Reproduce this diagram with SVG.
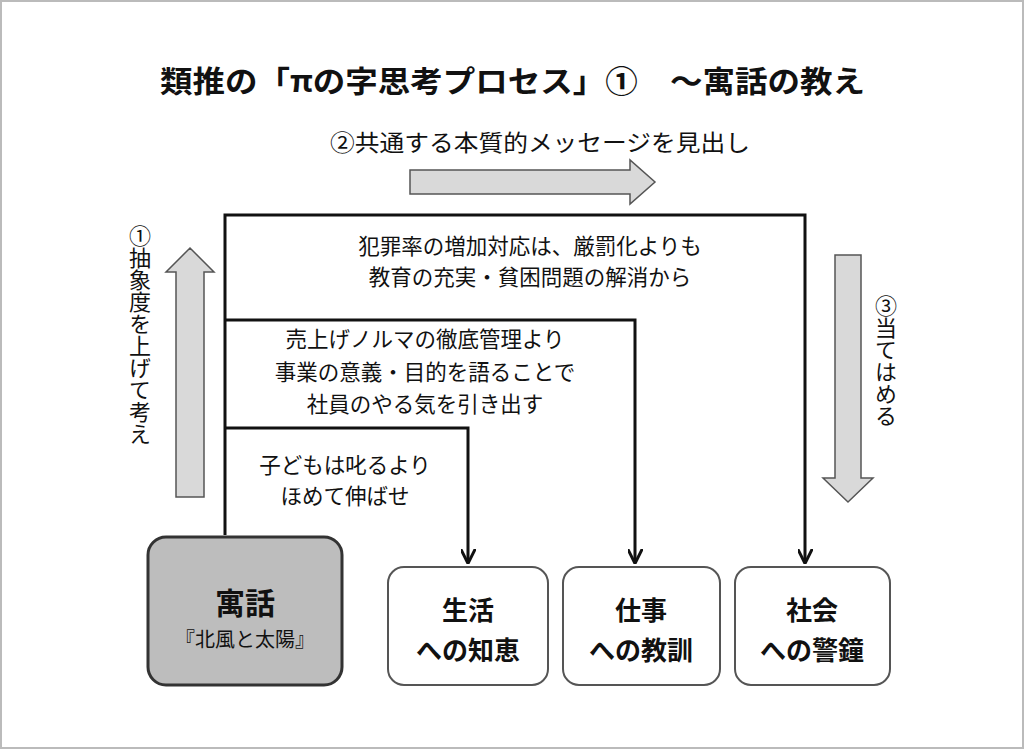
<svg xmlns="http://www.w3.org/2000/svg" width="1024" height="750" viewBox="0 0 1024 750">
<style>
text{font-family:"Noto Sans CJK JP","Noto Sans",sans-serif;fill:#111}
.t{font-size:21.5px;text-anchor:middle}
.b{font-size:26px;font-weight:bold;text-anchor:middle}
.v{font-size:22px;writing-mode:vertical-rl}
.ln{fill:none;stroke:#111;stroke-width:3}
.ga{fill:#d9d9d9;stroke:#555;stroke-width:1.5}
.bx{fill:#fff;stroke:#555;stroke-width:2}
</style>
<defs><marker id="ah" viewBox="0 0 10 10" refX="9" refY="5" markerWidth="5" markerHeight="5" orient="auto"><path d="M0,0 L10,5 L0,10" fill="none" stroke="#111" stroke-width="2"/></marker></defs>
<rect x="1" y="1" width="1022" height="747" fill="#fff" stroke="#bbb" stroke-width="2"/>
<text x="160" y="92" textLength="705" lengthAdjust="spacingAndGlyphs" style="font-size:30px;font-weight:bold">類推の「πの字思考プロセス」①　～寓話の教え</text>
<text x="330" y="151" textLength="420" lengthAdjust="spacingAndGlyphs" style="font-size:23px">②共通する本質的メッセージを見出し</text>
<g id="arrows">
<path class="ga" d="M410,170 H630 V160 L655,182 L630,204 V194 H410 Z"/>
<path class="ga" d="M176,497 V272 H166 L190,248 L214,272 H204 V497 Z"/>
<path class="ga" d="M835,255 V478 H823 L848,502 L873,478 H861 V255 Z"/>
</g>
<text class="v" x="140" y="225">①抽象度を上げて考え</text>
<text class="v" x="886" y="295">③当てはめる</text>
<g id="connectors">
<path class="ln" d="M225,535 V215 H805 V562" marker-end="url(#ah)"/>
<path class="ln" d="M225,320 H635 V562" marker-end="url(#ah)"/>
<path class="ln" d="M225,428 H468 V562" marker-end="url(#ah)"/>
</g>
<text class="t" x="530" y="254">犯罪率の増加対応は、厳罰化よりも</text>
<text class="t" x="530" y="285">教育の充実・貧困問題の解消から</text>
<text class="t" x="425" y="347">売上げノルマの徹底管理より</text>
<text class="t" x="425" y="380">事業の意義・目的を語ることで</text>
<text class="t" x="425" y="412">社員のやる気を引き出す</text>
<text class="t" x="345" y="473">子どもは叱るより</text>
<text class="t" x="345" y="504">ほめて伸ばせ</text>
<g id="n0"><rect x="148" y="537" width="194" height="148" rx="18" fill="#bdbdbd" stroke="#333" stroke-width="3"/>
<text x="245" y="614" style="font-size:30px;font-weight:bold;text-anchor:middle">寓話</text>
<text x="245" y="647" style="font-size:20px;text-anchor:middle">『北風と太陽』</text></g>
<g id="n1"><rect class="bx" x="388" y="567" width="160" height="118" rx="16"/><text class="b" x="468" y="620">生活</text><text class="b" x="468" y="660">への知恵</text></g>
<g id="n2"><rect class="bx" x="563" y="567" width="157" height="118" rx="16"/><text class="b" x="641" y="620">仕事</text><text class="b" x="641" y="660">への教訓</text></g>
<g id="n3"><rect class="bx" x="735" y="567" width="155" height="118" rx="16"/><text class="b" x="812" y="620">社会</text><text class="b" x="812" y="660">への警鐘</text></g>
</svg>
